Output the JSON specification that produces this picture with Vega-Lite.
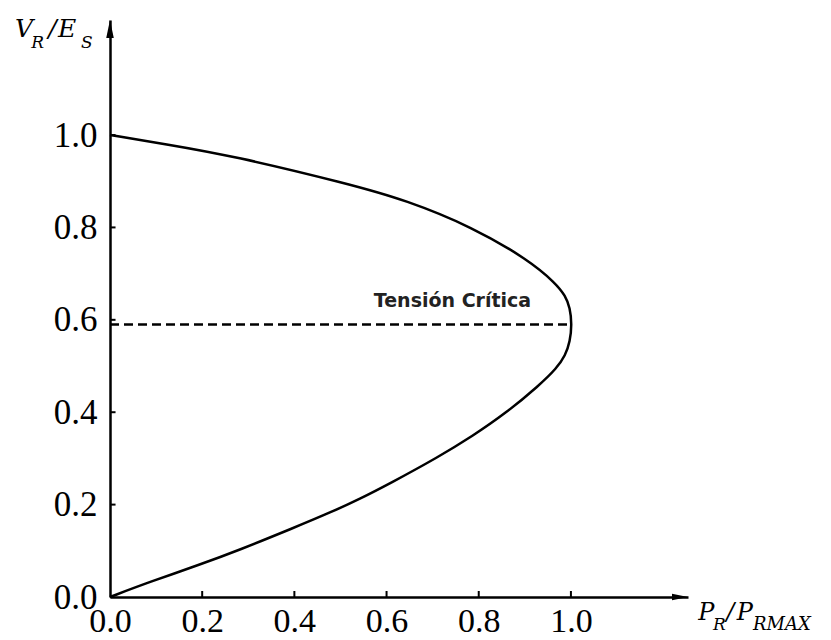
{
  "$schema": "https://vega.github.io/schema/vega-lite/v6.json",
  "width": 578,
  "height": 577,
  "autosize": {"type": "none"},
  "padding": {"left": 110, "top": 20, "right": 143, "bottom": 43},
  "background": "white",
  "config": {"view": {"stroke": null}},
  "datasets": {
    "curve": [
      {"o": 0, "p": 0.0, "v": 0.0},
      {"o": 1, "p": 0.087, "v": 0.033},
      {"o": 2, "p": 0.195, "v": 0.07},
      {"o": 3, "p": 0.281, "v": 0.102},
      {"o": 4, "p": 0.397, "v": 0.149},
      {"o": 5, "p": 0.483, "v": 0.185},
      {"o": 6, "p": 0.541, "v": 0.212},
      {"o": 7, "p": 0.606, "v": 0.245},
      {"o": 8, "p": 0.714, "v": 0.304},
      {"o": 9, "p": 0.786, "v": 0.348},
      {"o": 10, "p": 0.859, "v": 0.398},
      {"o": 11, "p": 0.931, "v": 0.458},
      {"o": 12, "p": 0.969, "v": 0.495},
      {"o": 13, "p": 0.988, "v": 0.523},
      {"o": 14, "p": 0.998, "v": 0.553},
      {"o": 15, "p": 1.002, "v": 0.59},
      {"o": 16, "p": 0.998, "v": 0.626},
      {"o": 17, "p": 0.988, "v": 0.652},
      {"o": 18, "p": 0.967, "v": 0.679},
      {"o": 19, "p": 0.909, "v": 0.729},
      {"o": 20, "p": 0.786, "v": 0.801},
      {"o": 21, "p": 0.642, "v": 0.859},
      {"o": 22, "p": 0.519, "v": 0.894},
      {"o": 23, "p": 0.266, "v": 0.955},
      {"o": 24, "p": 0.123, "v": 0.98},
      {"o": 25, "p": 0.0, "v": 1.0}
    ],
    "critical": [
      {"p0": 0.0, "p1": 1.0, "v": 0.59, "label": "Tensión Crítica", "lp": 0.743, "lv": 0.628}
    ],
    "ticks": [
      {"t": 0.2}, {"t": 0.4}, {"t": 0.6}, {"t": 0.8}, {"t": 1.0}
    ],
    "one": [{}]
  },
  "layer": [
    {
      "data": {"name": "curve"},
      "mark": {"type": "line", "color": "black", "strokeWidth": 2.5, "interpolate": "basis"},
      "encoding": {
        "x": {
          "field": "p", "type": "quantitative",
          "scale": {"domain": [0, 1.254], "nice": false, "zero": false},
          "axis": {
            "values": [0, 0.2, 0.4, 0.6, 0.8, 1.0], "format": ".1f", "title": null, "grid": false,
            "domainColor": "black", "domainWidth": 2.5, "ticks": false,
            "labelFont": "Liberation Serif", "labelFontSize": 34, "labelColor": "black",
            "labelPadding": 7, "labelFlush": false, "labelOverlap": false
          }
        },
        "y": {
          "field": "v", "type": "quantitative",
          "scale": {"domain": [0, 1.249], "nice": false, "zero": false},
          "axis": {
            "values": [0, 0.2, 0.4, 0.6, 0.8, 1.0], "format": ".1f", "title": null, "grid": false,
            "domainColor": "black", "domainWidth": 2.5, "ticks": false,
            "labelFont": "Liberation Serif", "labelFontSize": 35, "labelColor": "black",
            "labelPadding": 13, "labelFlush": false, "labelOverlap": false
          }
        },
        "order": {"field": "o", "type": "quantitative"}
      }
    },
    {
      "data": {"name": "ticks"},
      "mark": {"type": "rule", "color": "black", "strokeWidth": 2},
      "encoding": {
        "x": {"field": "t", "type": "quantitative"},
        "y": {"datum": 0},
        "y2": {"datum": 0.013}
      }
    },
    {
      "data": {"name": "ticks"},
      "mark": {"type": "rule", "color": "black", "strokeWidth": 2},
      "encoding": {
        "y": {"field": "t", "type": "quantitative"},
        "x": {"datum": 0},
        "x2": {"datum": 0.012}
      }
    },
    {
      "data": {"name": "critical"},
      "mark": {"type": "rule", "color": "black", "strokeWidth": 2.5, "strokeDash": [9, 5]},
      "encoding": {
        "x": {"field": "p0", "type": "quantitative"},
        "x2": {"field": "p1"},
        "y": {"field": "v", "type": "quantitative"}
      }
    },
    {
      "data": {"name": "critical"},
      "mark": {"type": "text", "font": "DejaVu Sans", "fontWeight": "bold", "fontSize": 19, "color": "#222", "align": "center", "baseline": "alphabetic"},
      "encoding": {
        "x": {"field": "lp", "type": "quantitative"},
        "y": {"field": "lv", "type": "quantitative"},
        "text": {"field": "label"}
      }
    },
    {
      "data": {"name": "one"},
      "mark": {"type": "point", "shape": "M-2,-0.42L0,0L-2,0.42Z", "size": 256, "filled": true, "color": "black", "opacity": 1},
      "encoding": {"x": {"datum": 1.254}, "y": {"datum": 0}}
    },
    {
      "data": {"name": "one"},
      "mark": {"type": "point", "shape": "M-0.42,2L0,0L0.42,2Z", "size": 324, "filled": true, "color": "black", "opacity": 1},
      "encoding": {"x": {"datum": 0}, "y": {"datum": 1.249}}
    },
    {
      "data": {"name": "one"},
      "mark": {"type": "text", "font": "DejaVu Serif", "fontStyle": "italic", "fontSize": 25, "align": "left", "baseline": "alphabetic", "color": "black", "text": "V"},
      "encoding": {"x": {"datum": -0.206}, "y": {"datum": 1.212}}
    },
    {
      "data": {"name": "one"},
      "mark": {"type": "text", "font": "DejaVu Serif", "fontStyle": "italic", "fontSize": 17, "align": "left", "baseline": "alphabetic", "color": "black", "text": "R"},
      "encoding": {"x": {"datum": -0.171}, "y": {"datum": 1.188}}
    },
    {
      "data": {"name": "one"},
      "mark": {"type": "text", "font": "DejaVu Serif", "fontStyle": "italic", "fontSize": 25, "align": "left", "baseline": "alphabetic", "color": "black", "text": "/"},
      "encoding": {"x": {"datum": -0.134}, "y": {"datum": 1.212}}
    },
    {
      "data": {"name": "one"},
      "mark": {"type": "text", "font": "DejaVu Serif", "fontStyle": "italic", "fontSize": 25, "align": "left", "baseline": "alphabetic", "color": "black", "text": "E"},
      "encoding": {"x": {"datum": -0.113}, "y": {"datum": 1.212}}
    },
    {
      "data": {"name": "one"},
      "mark": {"type": "text", "font": "DejaVu Serif", "fontStyle": "italic", "fontSize": 17, "align": "left", "baseline": "alphabetic", "color": "black", "text": "S"},
      "encoding": {"x": {"datum": -0.063}, "y": {"datum": 1.188}}
    },
    {
      "data": {"name": "one"},
      "mark": {"type": "text", "font": "DejaVu Serif", "fontStyle": "italic", "fontSize": 24, "align": "left", "baseline": "alphabetic", "color": "black", "text": "P"},
      "encoding": {"x": {"datum": 1.276}, "y": {"datum": -0.05}}
    },
    {
      "data": {"name": "one"},
      "mark": {"type": "text", "font": "DejaVu Serif", "fontStyle": "italic", "fontSize": 17, "align": "left", "baseline": "alphabetic", "color": "black", "text": "R"},
      "encoding": {"x": {"datum": 1.308}, "y": {"datum": -0.071}}
    },
    {
      "data": {"name": "one"},
      "mark": {"type": "text", "font": "DejaVu Serif", "fontStyle": "italic", "fontSize": 24, "align": "left", "baseline": "alphabetic", "color": "black", "text": "/"},
      "encoding": {"x": {"datum": 1.337}, "y": {"datum": -0.05}}
    },
    {
      "data": {"name": "one"},
      "mark": {"type": "text", "font": "DejaVu Serif", "fontStyle": "italic", "fontSize": 24, "align": "left", "baseline": "alphabetic", "color": "black", "text": "P"},
      "encoding": {"x": {"datum": 1.36}, "y": {"datum": -0.05}}
    },
    {
      "data": {"name": "one"},
      "mark": {"type": "text", "font": "DejaVu Serif", "fontStyle": "italic", "fontSize": 18, "align": "left", "baseline": "alphabetic", "color": "black", "text": "RMAX"},
      "encoding": {"x": {"datum": 1.395}, "y": {"datum": -0.071}}
    }
  ]
}
